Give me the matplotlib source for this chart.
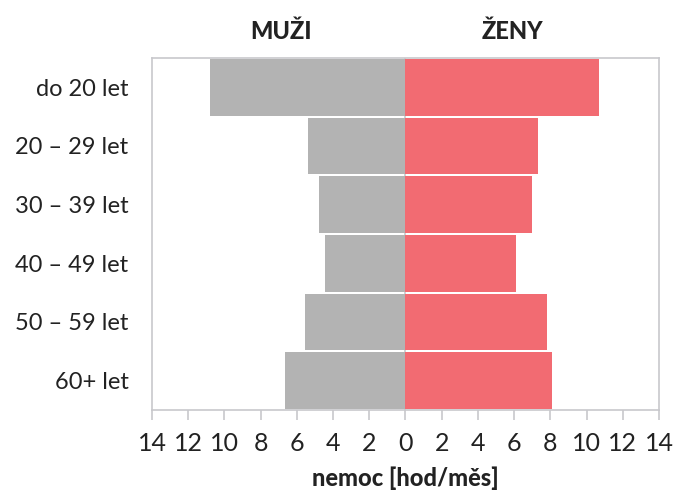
import numpy as np
import matplotlib.pyplot as plt
from matplotlib.ticker import FuncFormatter

# Data
age_groups = ['do 20 let', '20 – 29 let', '30 – 39 let', '40 – 49 let', '50 – 59 let', '60+ let']
men = [10.8, 5.4, 4.75, 4.45, 5.55, 6.65]
women = [10.7, 7.3, 7.0, 6.1, 7.8, 8.1]
x_ticks = list(range(-14, 15, 2))

plt.rcParams['font.family'] = ['Lato', 'DejaVu Sans']

fig = plt.figure(figsize=(6.77, 4.93), dpi=100)
ax = fig.add_axes([0.2245, 0.1684, 0.9734 - 0.2245, 0.8824 - 0.1684])

y = np.arange(len(age_groups))
ax.axvline(0, color='#c8c8cc', lw=1.2, zorder=1)
ax.barh(y, [-m for m in men], height=0.97, color='#b3b3b3', zorder=2)
ax.barh(y, women, height=0.97, color='#f26b72', zorder=2)

ax.set_xlim(-14, 14)
ax.set_ylim(len(age_groups) - 0.5, -0.5)
ax.set_yticks(y)
ax.set_yticklabels(age_groups, fontsize=17, color='#222222')
ax.set_xticks(x_ticks)
ax.xaxis.set_major_formatter(FuncFormatter(lambda v, p: '%d' % abs(v)))
ax.tick_params(axis='x', length=7, width=1.2, color='#c8c8cc', labelsize=18,
               labelcolor='#222222', pad=9)
ax.tick_params(axis='y', length=0, pad=17)

for s in ax.spines.values():
    s.set_color('#c8c8cc')
    s.set_linewidth(1.2)

ax.text(-6.9, -0.75, 'MUŽI', ha='center', va='bottom', fontsize=17,
        fontweight='black', color='#222222')
ax.text(5.9, -0.75, 'ŽENY', ha='center', va='bottom', fontsize=17,
        fontweight='black', color='#222222')
ax.set_xlabel('nemoc [hod/měs]', fontsize=17, fontweight='black', color='#222222',
              labelpad=8)

fig.savefig('out.png', dpi=100)
